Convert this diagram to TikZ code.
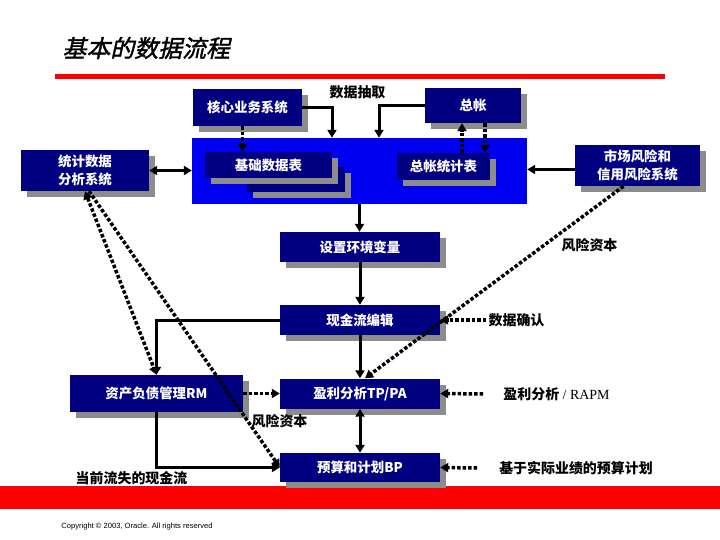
\documentclass[tikz,border=0pt]{standalone}
\usepackage{fontspec}
\newfontfamily\cjk{Noto Sans CJK SC}
\newfontfamily\cjkslant[FakeSlant=0.22,FakeBold=1.5]{Noto Sans CJK SC}
\newfontfamily\serifl{Liberation Serif}
\newfontfamily\sansl{Liberation Sans}
\definecolor{oranavy}{RGB}{0, 0, 128}
\definecolor{orablue}{RGB}{0, 0, 240}
\definecolor{orared}{RGB}{255, 0, 0}
\definecolor{shadowgray}{RGB}{140, 140, 140}
\usetikzlibrary{shadows, arrows.meta, positioning, calc}

\begin{document}
\begin{tikzpicture}[x=1bp, y=-1bp,
    box/.style={fill=oranavy, text=white, inner sep=0pt, align=center,
                font=\cjk\bfseries\fontsize{13.5}{18}\selectfont,
                general shadow={fill=shadowgray, shadow xshift=6bp, shadow yshift=-6bp}},
    note/.style={font=\cjk\bfseries\fontsize{14}{16}\selectfont, inner sep=2bp},
    tip/.tip={Triangle[length=8bp, width=9bp]},
    arr/.style={-tip, line width=3bp},
    dblarr/.style={tip-tip, line width=3bp},
    dotarr/.style={-tip, line width=3.5bp, dash pattern=on 3.5bp off 2bp},
    dotdbl/.style={tip-tip, line width=3.5bp, dash pattern=on 3.5bp off 2bp}
  ]
    \useasboundingbox (0,0) rectangle (720,540);

    \node[font=\cjkslant\fontsize{24}{27}\selectfont, anchor=west] (title) at (59,48) {基本的数据流程};
    \fill[orared] (55,74) rectangle (665,79);
    \fill[orared] (0,486) rectangle (720,509);
    \node[font=\sansl\fontsize{7.6}{9}\selectfont] (copy) at (137,527)
      {Copyright © 2003, Oracle. All rights reserved};

    \node[box, minimum width=109bp, minimum height=37bp] (core) at (247.5,107.5) {核心业务系统};
    \node[box, minimum width=96bp, minimum height=35bp] (ledger) at (473,105.5) {总帐};
    \node[fill=orablue, minimum width=335bp, minimum height=66bp, inner sep=0pt] (hub) at (359.5,171) {};
    \node[box, minimum width=98bp, minimum height=25bp] (basebk) at (296,179.5) {};
    \node[box, minimum width=127bp, minimum height=26bp] (base) at (268.5,165) {基础数据表};
    \node[box, minimum width=93bp, minimum height=27bp] (ledgerstat) at (443.5,166.5) {总帐统计表};
    \node[box, minimum width=128bp, minimum height=41bp] (stat) at (85,170.5) {统计数据\\分析系统};
    \node[box, minimum width=125bp, minimum height=41bp] (risk) at (637.5,165.5) {市场风险和\\信用风险系统};
    \node[box, minimum width=160bp, minimum height=30bp] (env) at (360,247) {设置环境变量};
    \node[box, minimum width=160bp, minimum height=30bp] (cash) at (360,320) {现金流编辑};
    \node[box, minimum width=173bp, minimum height=37bp] (alm) at (156.5,393.5) {资产负债管理RM};
    \node[box, minimum width=160bp, minimum height=30bp] (pa) at (360,393.5) {盈利分析TP/PA};
    \node[box, minimum width=160bp, minimum height=29bp] (bp) at (360,467.5) {预算和计划BP};

    \node[note] (extract) at (357.5,92) {数据抽取};
    \node[note] (capR) at (589.5,245) {风险资本};
    \node[note] (confirm) at (516.5,320) {数据确认};
    \node[note] (rapm) at (556.5,394) {盈利分析{\serifl\mdseries{} / RAPM}};
    \node[note] (plan) at (576,468) {基于实际业绩的预算计划};
    \node[note] (capL) at (279.5,421) {风险资本};
    \node[note] (lost) at (131.5,478) {当前流失的现金流};

    \coordinate (coreIn) at (332,0);
    \coordinate (ledgerIn) at (379,0);
    \coordinate (ledgerUp) at (462,0);
    \coordinate (ledgerDown) at (485,0);

    \draw[arr] (core.east) -| (hub.north -| coreIn);
    \draw[arr] (ledger.west) -| (hub.north -| ledgerIn);
    \draw[dotarr] ([xshift=-5bp]core.south) -- ([xshift=-5bp]core.south |- base.north);
    \draw[dotarr] (ledgerstat.north -| ledgerUp) -- (ledger.south -| ledgerUp);
    \draw[dotarr] (ledger.south -| ledgerDown) -- (ledgerstat.north -| ledgerDown);
    \draw[dblarr] (stat.east) -- (stat.east -| hub.west);
    \draw[arr] ([yshift=-4bp]risk.west) -- ([yshift=-4bp]risk.west -| hub.east);
    \draw[arr] (hub.south) -- (hub.south |- env.north);
    \draw[arr] (env) -- (cash);
    \draw[arr] (cash) -- (pa);
    \draw[dblarr] (pa) -- (bp);
    \draw[arr] (cash.west) -| (alm.north);
    \draw[dotarr] (alm.east) -- (pa.west);
    \draw[arr] (alm.south) |- (bp.west);
    \draw[dotdbl] (stat.south) -- (alm.north);
    \draw[dotarr] ([xshift=4bp]stat.south) -- (bp.west);
    \draw[dotarr] ([xshift=-14bp]risk.south) -- ([xshift=5bp]pa.north);
    \draw[dotarr] (confirm.west) -- (cash.east);
    \draw[dotarr] ([xshift=-18bp]rapm.west) -- (pa.east);
    \draw[dotarr] ([xshift=-20bp]plan.west) -- (bp.east);
  \end{tikzpicture}
\end{document}
